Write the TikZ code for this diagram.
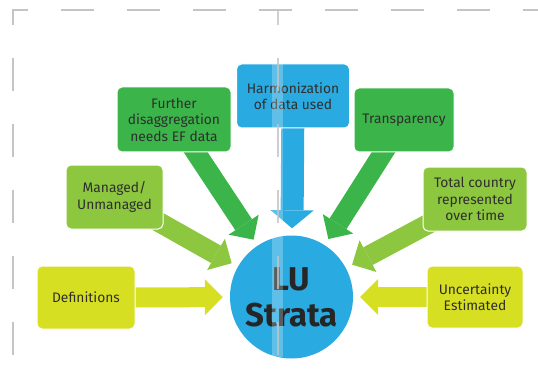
\documentclass[tikz,border=0pt]{standalone}
\usepackage{fontspec}
\setmainfont{Fira Sans}
\usetikzlibrary{arrows.meta,backgrounds}
\definecolor{lublue}{HTML}{29ABE2}
\definecolor{darkgreen}{HTML}{3BB54A}
\definecolor{midgreen}{HTML}{8DC63F}
\definecolor{limegreen}{HTML}{D7DF23}
\definecolor{guidegray}{HTML}{C4C4C4}
\definecolor{textgray}{HTML}{2E2E2E}
\tikzset{
	box/.style={draw=white, line width=1pt, rounded corners=5pt, align=center, text=textgray, font=\fontsize{13.8}{16.5}\selectfont, inner sep=0pt},
	fat/.style={line width=20pt, shorten >=7pt, -{Triangle[length=18pt,width=36pt,line width=0pt]}},
	fatbig/.style={line width=23pt, shorten >=7pt, -{Triangle[length=18pt,width=43pt,line width=0pt]}},
	guide/.style={guidegray, line width=1.3pt, dash pattern=on 33pt off 33pt}
}

\begin{document}
\begin{tikzpicture}[x=1pt,y=-1pt]
		%%%%% START %%%%%
		\useasboundingbox (0,0) rectangle (538,385);
		
		\node[circle, fill=lublue, minimum size=123pt, inner sep=0pt, align=center, text=black!85, font=\fontsize{33}{37}\bfseries\selectfont] (lu) at (291.5,297) {LU\\[-1pt]Strata};
		
		\node[box, fill=lublue, minimum width=113pt, minimum height=64pt] (harm) at (293,96) {Harmonization\\of data used};
		\node[box, fill=darkgreen, minimum width=114pt, minimum height=65pt] (further) at (174,119.5) {Further\\disaggregation\\needs EF data};
		\node[box, fill=darkgreen, minimum width=100pt, minimum height=64pt] (transp) at (404,120) {Transparency};
		\node[box, fill=midgreen, minimum width=97pt, minimum height=64pt] (managed) at (114.5,197) {Managed/\\Unmanaged};
		\node[box, fill=midgreen, minimum width=104pt, minimum height=64pt] (total) at (475,199) {Total country\\represented\\over time};
		\node[box, fill=limegreen, minimum width=98pt, minimum height=63pt] (defs) at (86,297.5) {Definitions};
		\node[box, fill=limegreen, minimum width=96pt, minimum height=62pt] (uncert) at (475,297) {Uncertainty\\Estimated};
		
		% arrows go under the boxes
		\begin{scope}[on background layer]
			\draw[fatbig, lublue] (harm.center) -- (lu);
			\draw[fat, darkgreen] (further.center) -- (lu);
			\draw[fat, darkgreen] (transp.center) -- (lu);
			\draw[fat, midgreen] (managed.center) -- (lu);
			\draw[fat, midgreen] (total.center) -- (lu);
			\draw[fat, limegreen] (defs.center) -- (lu);
			\draw[fat, limegreen] (uncert.center) -- (lu);
		\end{scope}
		
		% page guides
		\draw[guide, dash phase=17.5pt] (12,10) -- (538,10);
		\draw[guide, dash phase=18pt] (13,10) -- (13,385);
		\fill[white, opacity=0.25] (272,64) rectangle (283,357);
		\draw[guide, dash phase=18pt, opacity=0.8] (278,10) -- (278,385);
		
		%%%%% END %%%%%
	\end{tikzpicture}
\end{document}
